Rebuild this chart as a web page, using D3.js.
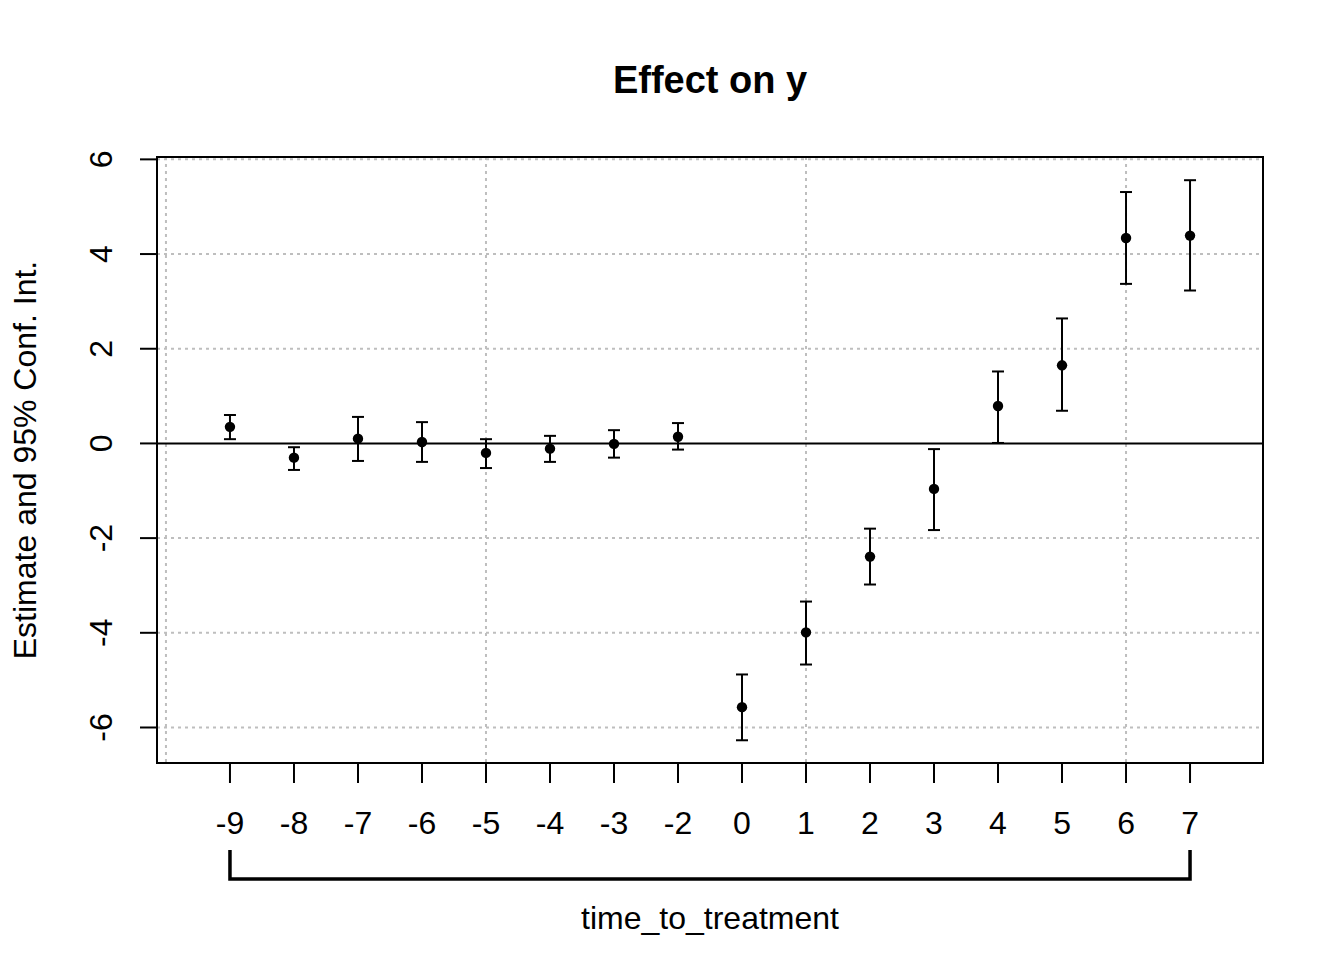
<!DOCTYPE html>
<html>
<head>
<meta charset="utf-8">
<script src="https://cdn.jsdelivr.net/npm/d3@7"></script>
<style>
	body { margin: 0; background: #fff; }
	svg text { font-family: "Liberation Sans", Arial, sans-serif; fill: #000; }
</style>
</head>
<body>
<div id="chart"></div>
<script>
let periods		= ["-9", "-8", "-7", "-6", "-5", "-4", "-3", "-2", "0", "1", "2", "3", "4", "5", "6", "7"];
let estimates	= [0.35, -0.30, 0.10, 0.03, -0.20, -0.11, -0.01, 0.14, -5.57, -3.99, -2.39, -0.96, 0.79, 1.65, 4.34, 4.39];
let ciLow		= [0.09, -0.56, -0.37, -0.39, -0.52, -0.39, -0.30, -0.13, -6.27, -4.67, -2.98, -1.83, 0.01, 0.69, 3.37, 3.23];
let ciHigh		= [0.60, -0.08, 0.56, 0.45, 0.09, 0.16, 0.28, 0.43, -4.88, -3.34, -1.80, -0.12, 1.52, 2.64, 5.31, 5.56];
let yTicks		= [-6, -4, -2, 0, 2, 4, 6];
let xGrid		= [-1, 4, 9, 14];

let W = 1344, H = 960;
let margin = { top: 157, right: 81, bottom: 197, left: 157 };
let width  = W - margin.left - margin.right;
let height = H - margin.top - margin.bottom;
let fs = "32px";

let data = periods.map((p, i) => ({ period: p, i: i, est: estimates[i], lo: ciLow[i], hi: ciHigh[i] }));

let x = d3.scaleLinear().domain([-1.14, periods.length - 1 + 1.14]).range([0, width]);
let y = d3.scaleLinear().domain([-6.75, 6.05]).range([height, 0]);

let svg = d3.select("#chart").append("svg")
	.attr("width", W)
	.attr("height", H);

svg.append("text")
	.attr("x", margin.left + width / 2)
	.attr("y", 93)
	.attr("text-anchor", "middle")
	.style("font-size", "38px")
	.style("font-weight", "bold")
	.text("Effect on y");

let g = svg.append("g").attr("transform", "translate(" + margin.left + "," + margin.top + ")");

// grid
g.selectAll(".hgrid")
	.data(yTicks.filter(d => d !== 0))
	.enter().append("line")
		.attr("x1", 0).attr("x2", width)
		.attr("y1", d => y(d)).attr("y2", d => y(d))
		.attr("stroke", "#bebebe").attr("stroke-width", 2).attr("stroke-dasharray", "3,4");

g.selectAll(".vgrid")
	.data(xGrid)
	.enter().append("line")
		.attr("x1", d => x(d)).attr("x2", d => x(d))
		.attr("y1", 0).attr("y2", height)
		.attr("stroke", "#bebebe").attr("stroke-width", 2).attr("stroke-dasharray", "3,4");

// zero line
g.append("line")
	.attr("x1", 0).attr("x2", width)
	.attr("y1", y(0)).attr("y2", y(0))
	.attr("stroke", "#000").attr("stroke-width", 2);

// error bars
let bars = g.selectAll(".bar").data(data).enter().append("g");
bars.append("line")
	.attr("x1", d => x(d.i)).attr("x2", d => x(d.i))
	.attr("y1", d => y(d.lo)).attr("y2", d => y(d.hi))
	.attr("stroke", "#000").attr("stroke-width", 2);
bars.append("line")
	.attr("x1", d => x(d.i) - 6).attr("x2", d => x(d.i) + 6)
	.attr("y1", d => y(d.hi)).attr("y2", d => y(d.hi))
	.attr("stroke", "#000").attr("stroke-width", 2);
bars.append("line")
	.attr("x1", d => x(d.i) - 6).attr("x2", d => x(d.i) + 6)
	.attr("y1", d => y(d.lo)).attr("y2", d => y(d.lo))
	.attr("stroke", "#000").attr("stroke-width", 2);
bars.append("circle")
	.attr("cx", d => x(d.i)).attr("cy", d => y(d.est))
	.attr("r", 5.2).attr("fill", "#000");

// box
g.append("rect")
	.attr("width", width).attr("height", height)
	.attr("fill", "none").attr("stroke", "#000").attr("stroke-width", 2);

// y axis
let yAxis = g.append("g");
yAxis.selectAll(".ytick").data(yTicks).enter().append("line")
	.attr("x1", -17).attr("x2", 0)
	.attr("y1", d => y(d)).attr("y2", d => y(d))
	.attr("stroke", "#000").attr("stroke-width", 2);
yAxis.selectAll(".ylab").data(yTicks).enter().append("text")
	.attr("transform", d => "translate(-45," + y(d) + ") rotate(-90)")
	.attr("text-anchor", "middle")
	.style("font-size", fs)
	.text(d => d);

// x axis
let xAxis = g.append("g").attr("transform", "translate(0," + height + ")");
xAxis.selectAll(".xtick").data(data).enter().append("line")
	.attr("x1", d => x(d.i)).attr("x2", d => x(d.i))
	.attr("y1", 0).attr("y2", 20)
	.attr("stroke", "#000").attr("stroke-width", 2);
xAxis.selectAll(".xlab").data(data).enter().append("text")
	.attr("x", d => x(d.i))
	.attr("y", 71)
	.attr("text-anchor", "middle")
	.style("font-size", fs)
	.text(d => d.period);

// bracket under labels
let first = x(0), last = x(periods.length - 1);
xAxis.append("path")
	.attr("d", "M" + first + ",87V116H" + last + "V87")
	.attr("fill", "none").attr("stroke", "#000").attr("stroke-width", 3.5);

svg.append("text")
	.attr("x", margin.left + width / 2)
	.attr("y", 929)
	.attr("text-anchor", "middle")
	.style("font-size", fs)
	.text("time_to_treatment");

svg.append("text")
	.attr("transform", "translate(36," + (margin.top + height / 2) + ") rotate(-90)")
	.attr("text-anchor", "middle")
	.style("font-size", fs)
	.text("Estimate and 95% Conf. Int.");
</script>
</body>
</html>
